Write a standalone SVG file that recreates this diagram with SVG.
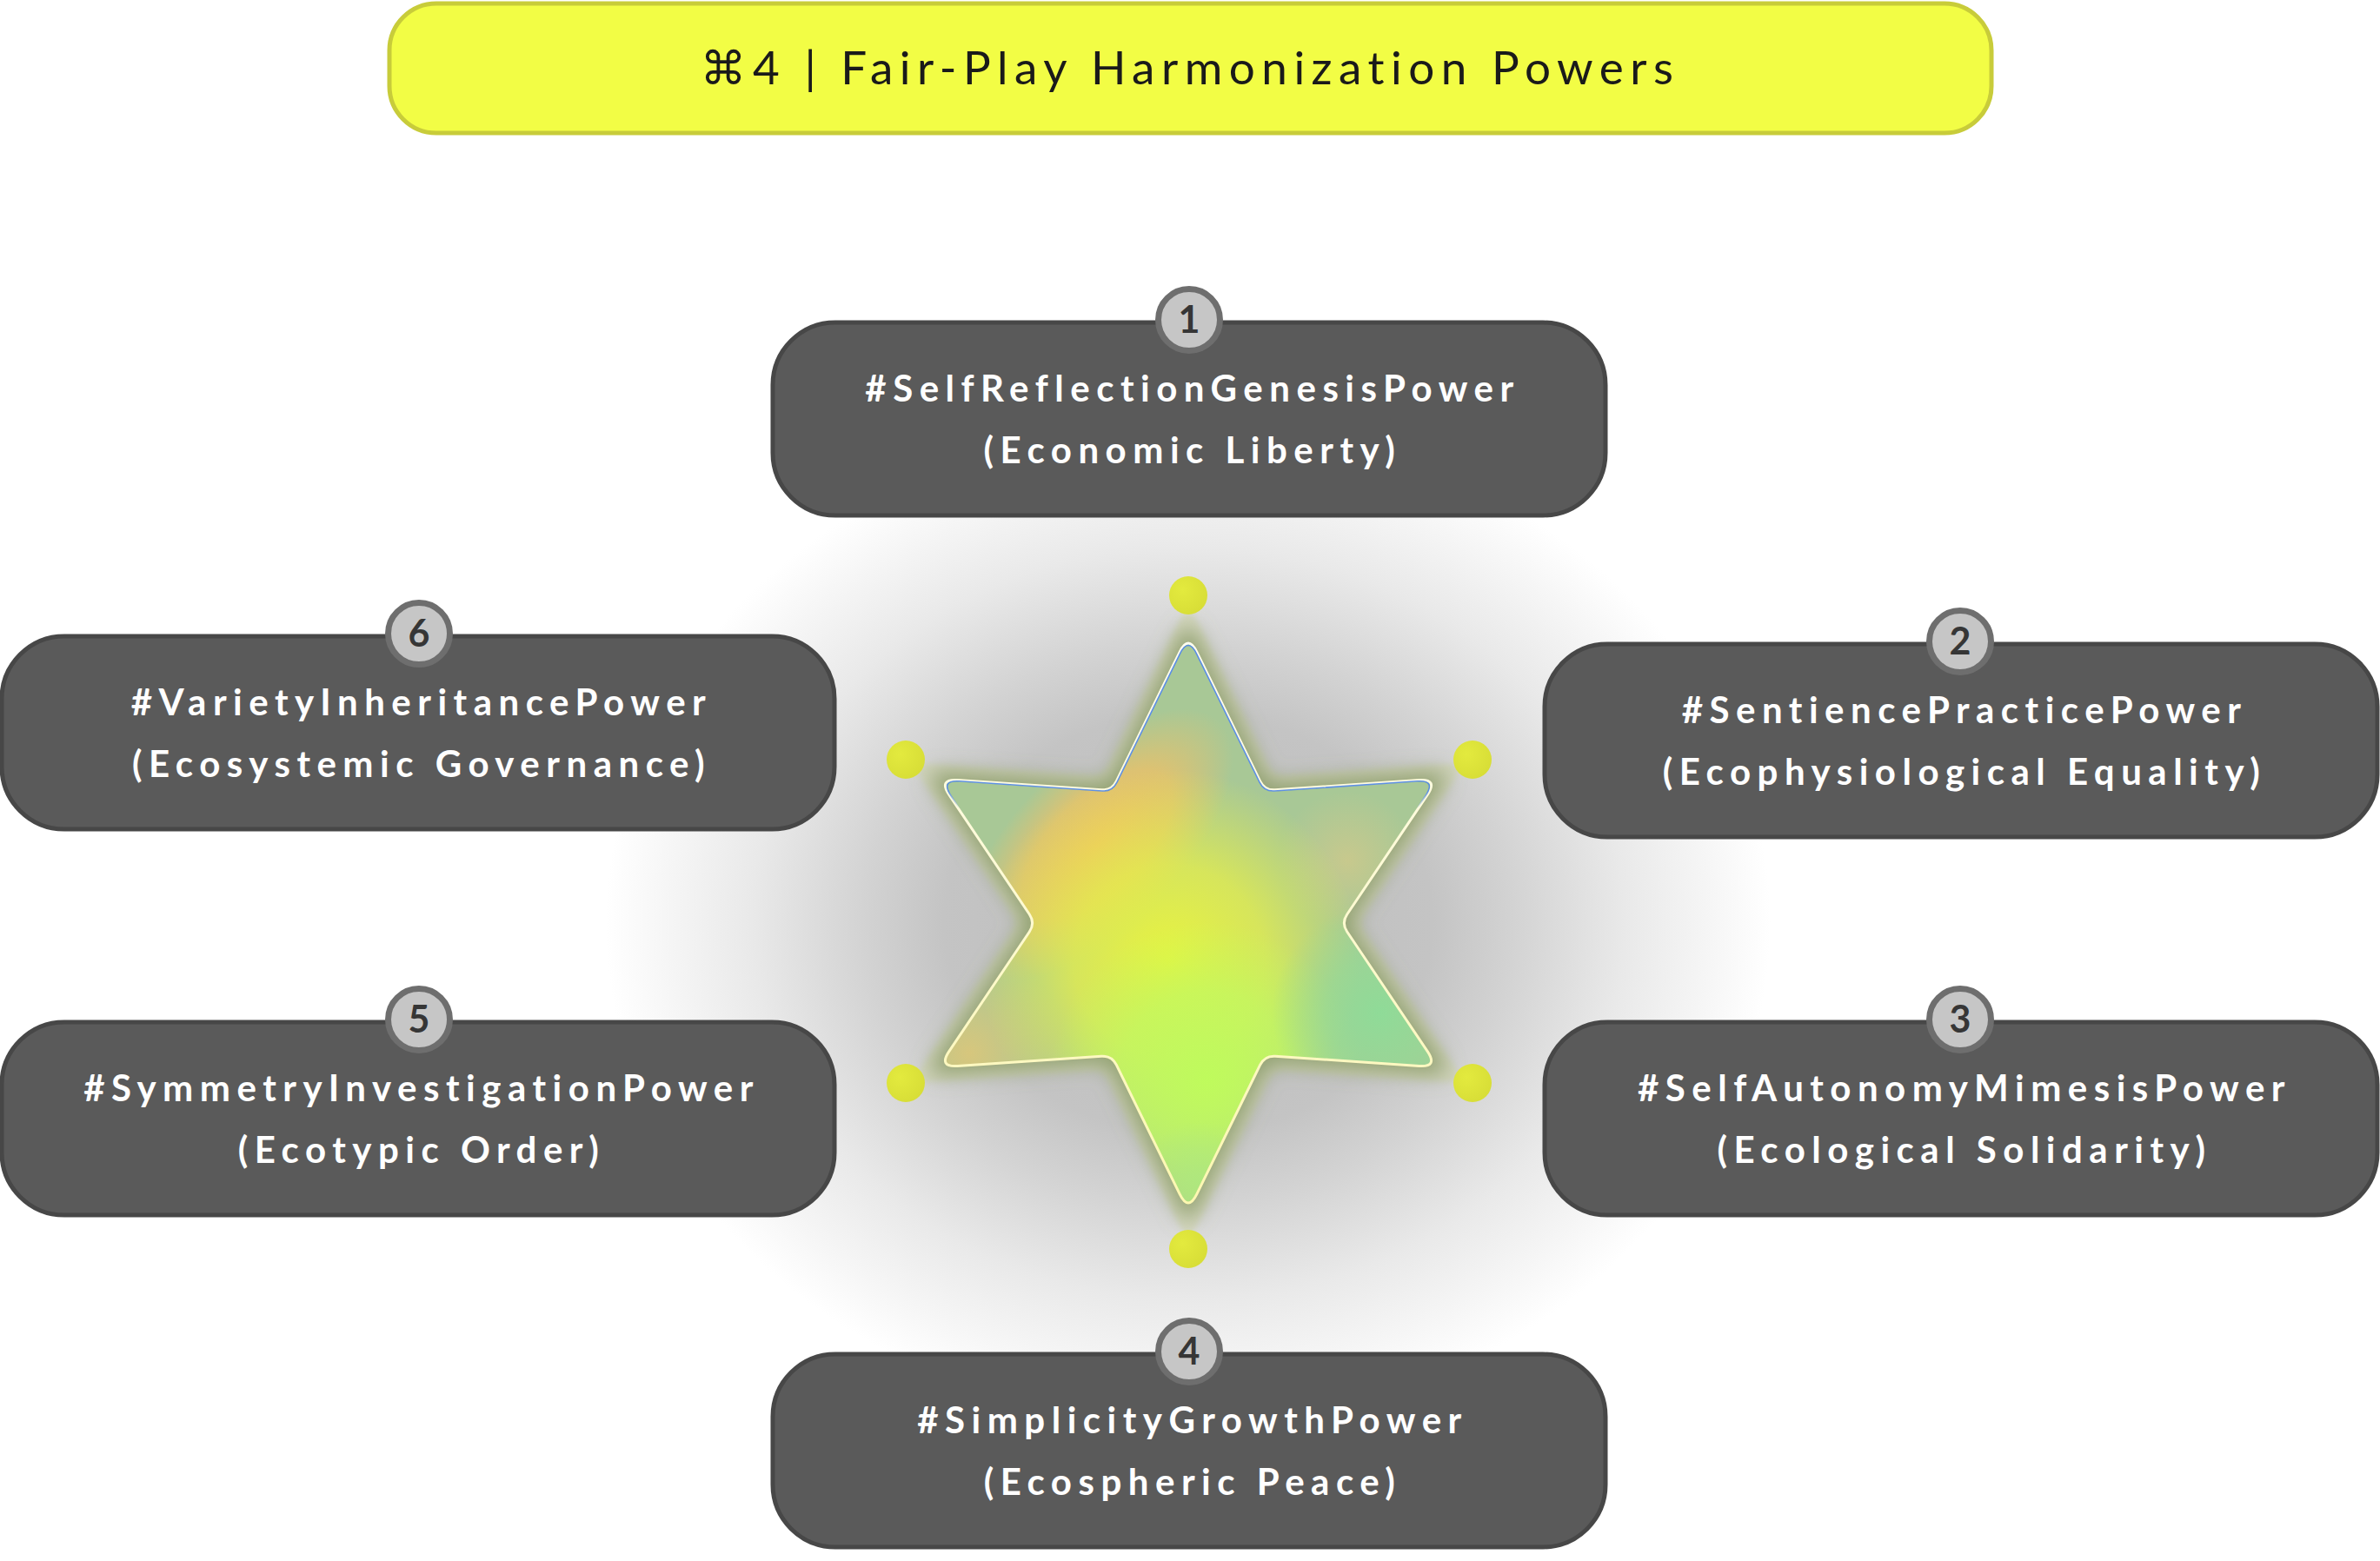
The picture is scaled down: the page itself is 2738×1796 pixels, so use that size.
<svg xmlns="http://www.w3.org/2000/svg" width="2738" height="1796" viewBox="0 0 2738 1796">
<style>
.node{fill:#5a5a5a;stroke:#474747;stroke-width:5}
.badge{fill:#c6c6c6;stroke:#6e6e6e;stroke-width:7}
.num{font-family:Lato,"Liberation Sans",sans-serif;font-weight:700;font-size:43px;fill:#363636;text-anchor:middle}
.lbl{font-family:Lato,"Liberation Sans",sans-serif;font-weight:700;font-size:42px;fill:#ffffff;text-anchor:middle;letter-spacing:7.5px}
.title{font-family:Lato,"DejaVu Sans",sans-serif;font-weight:400;font-size:53px;fill:#1a1a1a;text-anchor:middle;letter-spacing:7.5px}
</style>
<defs>
<path id="starP" d="M1376.7,749.8 L1449.7,898.8 Q1455,909.6 1467,908.8 L1632.6,897.5 Q1654.5,896 1642.2,914.3 L1549.7,1052 Q1543,1062 1549.7,1072 L1642.2,1209.7 Q1654.5,1228 1632.6,1226.5 L1467,1215.2 Q1455,1214.4 1449.7,1225.2 L1376.7,1374.2 Q1367,1394 1357.3,1374.2 L1284.3,1225.2 Q1279,1214.4 1267,1215.2 L1101.5,1226.5 Q1079.5,1228 1091.8,1209.7 L1184.3,1072 Q1191,1062 1184.3,1052 L1091.8,914.3 Q1079.5,896 1101.5,897.5 L1267,908.8 Q1279,909.6 1284.3,898.8 L1357.3,749.8 Q1367,730 1376.7,749.8 Z"/>
<clipPath id="starClip"><use href="#starP"/></clipPath>
<radialGradient id="bgShadow" gradientUnits="userSpaceOnUse" cx="1367" cy="1062" r="670" gradientTransform="translate(1367 1062) scale(1 0.86) translate(-1367 -1062)">
<stop offset="0" stop-color="#bcbcbc"/>
<stop offset="0.42" stop-color="#c4c4c4"/>
<stop offset="0.56" stop-color="#d3d3d3"/>
<stop offset="0.75" stop-color="#e9e9e9"/>
<stop offset="0.9" stop-color="#f6f6f6"/>
<stop offset="1" stop-color="#ffffff"/>
</radialGradient>
<radialGradient id="gOrange"><stop offset="0" stop-color="#f0bd66" stop-opacity="1"/><stop offset="0.55" stop-color="#efc066" stop-opacity="0.75"/><stop offset="1" stop-color="#efc066" stop-opacity="0"/></radialGradient>
<radialGradient id="gYellow"><stop offset="0" stop-color="#e8f43e" stop-opacity="1"/><stop offset="0.5" stop-color="#e6ef48" stop-opacity="0.75"/><stop offset="1" stop-color="#e6ef48" stop-opacity="0"/></radialGradient>
<radialGradient id="gLime"><stop offset="0" stop-color="#bffb5c" stop-opacity="1"/><stop offset="0.55" stop-color="#c0fa60" stop-opacity="0.7"/><stop offset="1" stop-color="#c0fa60" stop-opacity="0"/></radialGradient>
<radialGradient id="gMint"><stop offset="0" stop-color="#8fdb98" stop-opacity="1"/><stop offset="0.5" stop-color="#94da96" stop-opacity="0.7"/><stop offset="1" stop-color="#94da96" stop-opacity="0"/></radialGradient>
<radialGradient id="gMuted"><stop offset="0" stop-color="#dcc67a" stop-opacity="0.9"/><stop offset="1" stop-color="#dcc67a" stop-opacity="0"/></radialGradient>
<radialGradient id="gTan"><stop offset="0" stop-color="#d2c98a" stop-opacity="0.75"/><stop offset="1" stop-color="#d2c98a" stop-opacity="0"/></radialGradient>
<radialGradient id="gTip"><stop offset="0" stop-color="#aee87e" stop-opacity="0.9"/><stop offset="1" stop-color="#aee87e" stop-opacity="0"/></radialGradient>
<linearGradient id="blueEdge" gradientUnits="userSpaceOnUse" x1="0" y1="730" x2="0" y2="1394">
<stop offset="0" stop-color="#4f86e6" stop-opacity="0.95"/>
<stop offset="0.27" stop-color="#4f86e6" stop-opacity="0.9"/>
<stop offset="0.3" stop-color="#4f86e6" stop-opacity="0"/>
<stop offset="1" stop-color="#4f86e6" stop-opacity="0"/>
</linearGradient>
<linearGradient id="rimG" gradientUnits="userSpaceOnUse" x1="0" y1="730" x2="0" y2="1394">
<stop offset="0" stop-color="#fffdf0"/>
<stop offset="1" stop-color="#fdf7b0"/>
</linearGradient>
<radialGradient id="dotG" cx="0.35" cy="0.35" r="0.8"><stop offset="0" stop-color="#e3ea3e"/><stop offset="1" stop-color="#d6dc36"/></radialGradient>
<filter id="blurHalo" x="-30%" y="-30%" width="160%" height="160%"><feGaussianBlur stdDeviation="11"/></filter>
<filter id="blur4" x="-20%" y="-20%" width="140%" height="140%"><feGaussianBlur stdDeviation="3"/></filter>
</defs>

<rect width="2738" height="1796" fill="#ffffff"/>
<ellipse cx="1367" cy="1062" rx="670" ry="577" fill="url(#bgShadow)"/>

<g id="title">
<rect x="448" y="4" width="1843" height="149" rx="54" fill="#f2fd45" stroke="#c8cc3a" stroke-width="5"/>
<text class="title" x="1369" y="97">⌘4 | Fair-Play Harmonization Powers</text>
</g>

<g id="star">
<use href="#starP" transform="translate(1367 1062) scale(1.11) translate(-1367 -1062)" fill="#cdd4a8" fill-opacity="0.55" filter="url(#blur4)"/>
<use href="#starP" transform="translate(1367 1062) scale(1.06) translate(-1367 -1062)" fill="#899b66" fill-opacity="0.85" filter="url(#blurHalo)"/>
<g clip-path="url(#starClip)">
<rect x="1070" y="720" width="600" height="690" fill="#a8c896"/>
<circle cx="1115" cy="1212" r="115" fill="url(#gMuted)"/>
<circle cx="1550" cy="990" r="80" fill="url(#gTan)"/>
<ellipse cx="0" cy="0" rx="200" ry="95" fill="url(#gOrange)" transform="translate(1262 972) rotate(-45)"/>
<circle cx="1345" cy="1105" r="220" fill="url(#gYellow)"/>
<circle cx="1388" cy="1240" r="180" fill="url(#gLime)"/>
<circle cx="1588" cy="1165" r="125" fill="url(#gMint)"/>
<circle cx="1380" cy="1360" r="70" fill="url(#gTip)"/>
</g>
<use href="#starP" fill="none" stroke="url(#rimG)" stroke-width="3"/>
<use href="#starP" transform="translate(1367 1062) scale(0.992) translate(-1367 -1062)" fill="none" stroke="url(#blueEdge)" stroke-width="1.6"/>
</g>

<g id="dots">
<circle cx="1367" cy="685" r="22" fill="url(#dotG)"/>
<circle cx="1042" cy="874" r="22" fill="url(#dotG)"/>
<circle cx="1694" cy="874" r="22" fill="url(#dotG)"/>
<circle cx="1042" cy="1246" r="22" fill="url(#dotG)"/>
<circle cx="1694" cy="1246" r="22" fill="url(#dotG)"/>
<circle cx="1367" cy="1437" r="22" fill="url(#dotG)"/>
</g>

<g id="connectors"></g>

<g id="node1">
<rect class="node" x="889" y="371" width="958" height="222" rx="72"/>
<circle class="badge" cx="1368" cy="368" r="35.5"/>
<text class="num" x="1368" y="383">1</text>
<text class="lbl" x="1372" y="462">#SelfReflectionGenesisPower</text>
<text class="lbl" x="1372" y="533">(Economic Liberty)</text>
</g>

<g id="node2">
<rect class="node" x="1777" y="741" width="958" height="222" rx="72"/>
<circle class="badge" cx="2255" cy="738" r="35.5"/>
<text class="num" x="2255" y="753">2</text>
<text class="lbl" x="2260" y="832">#SentiencePracticePower</text>
<text class="lbl" x="2260" y="903">(Ecophysiological Equality)</text>
</g>

<g id="node3">
<rect class="node" x="1777" y="1176" width="958" height="222" rx="72"/>
<circle class="badge" cx="2255" cy="1173" r="35.5"/>
<text class="num" x="2255" y="1188">3</text>
<text class="lbl" x="2260" y="1267">#SelfAutonomyMimesisPower</text>
<text class="lbl" x="2260" y="1338">(Ecological Solidarity)</text>
</g>

<g id="node4">
<rect class="node" x="889" y="1558" width="958" height="222" rx="72"/>
<circle class="badge" cx="1368" cy="1555" r="35.5"/>
<text class="num" x="1368" y="1570">4</text>
<text class="lbl" x="1372" y="1649">#SimplicityGrowthPower</text>
<text class="lbl" x="1372" y="1720">(Ecospheric Peace)</text>
</g>

<g id="node5">
<rect class="node" x="2" y="1176" width="958" height="222" rx="72"/>
<circle class="badge" cx="482" cy="1173" r="35.5"/>
<text class="num" x="482" y="1188">5</text>
<text class="lbl" x="485" y="1267">#SymmetryInvestigationPower</text>
<text class="lbl" x="485" y="1338">(Ecotypic Order)</text>
</g>

<g id="node6">
<rect class="node" x="2" y="732" width="958" height="222" rx="72"/>
<circle class="badge" cx="482" cy="729" r="35.5"/>
<text class="num" x="482" y="744">6</text>
<text class="lbl" x="485" y="823">#VarietyInheritancePower</text>
<text class="lbl" x="485" y="894">(Ecosystemic Governance)</text>
</g>
</svg>
